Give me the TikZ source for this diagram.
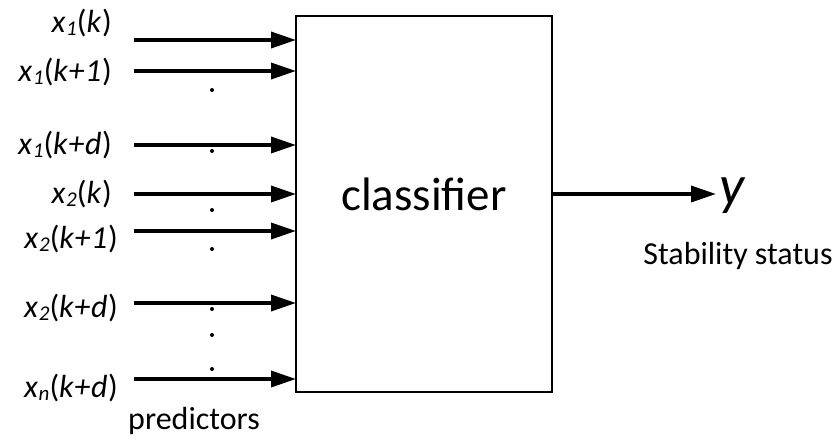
\documentclass[tikz,border=0pt]{standalone}
\usepackage{fontspec}
\setmainfont{Carlito}
\newfontfamily\lblfont{Carlito}[LetterSpace=2]
\usetikzlibrary{arrows.meta}
\begin{document}
\begin{tikzpicture}[x=1pt,y=-1pt,
  inarrow/.style={line width=3.6pt,-{Triangle[length=25pt,width=16pt]}},
  lbl/.style={anchor=east,inner sep=0pt,font=\lblfont\fontsize{32}{36}\selectfont},
  vdot/.style={circle,fill=black,inner sep=0pt,minimum size=4pt}]
\useasboundingbox (0,0) rectangle (839,439);
% classifier block
\node[draw,line width=2.6pt,minimum width=256pt,minimum height=376pt,inner sep=0pt] (cls) at (424,204) {};
\node[font=\fontsize{47}{54}\selectfont,inner sep=0pt] (clsname) at (424,194) {classifier};
% input signal labels: italic name, small subscript, upright parentheses
\newcommand{\sig}[2]{\textit{x}\raisebox{-0.1em}{\fontsize{21}{21}\selectfont\itshape #1}(\textit{#2})}
\node[lbl] (l1) at (112,23) {\sig{1}{k}};
\node[lbl] (l2) at (112,72) {\sig{1}{k+1}};
\node[lbl] (l3) at (112,145) {\sig{1}{k+d}};
\node[lbl] (l4) at (112,194) {\sig{2}{k}};
\node[lbl] (l5) at (118,239) {\sig{2}{k+1}};
\node[lbl] (l6) at (118,308) {\sig{2}{k+d}};
\node[lbl] (l7) at (118,388) {\sig{n}{k+d}};
\foreach \n/\yy in {1/40,2/71,3/145,4/194,5/231,6/303,7/379}{
  \coordinate (s\n) at (134,\yy);
  \coordinate (e\n) at (296,\yy);
  \draw[inarrow] (s\n) -- (e\n);
}
% ellipsis dots between the inputs
\foreach \n/\yy in {1/90,2/151,3/210,4/249,5/309,6/335,7/369}{
  \node[vdot] (d\n) at (212,\yy) {};
}
\node[font=\fontsize{32}{38}\selectfont,inner sep=0pt] (pred) at (194,421) {predictors};
% output
\node[anchor=west,inner sep=0pt,font=\fontsize{56}{64}\selectfont\itshape] (y) at (719,196) {y};
\coordinate (oe) at (716,194);
\draw[inarrow] (cls.east |- oe) -- (oe);
\node[font=\fontsize{32}{38}\selectfont,inner sep=0pt] (stab) at (738,256) {Stability status};
\end{tikzpicture}
\end{document}
